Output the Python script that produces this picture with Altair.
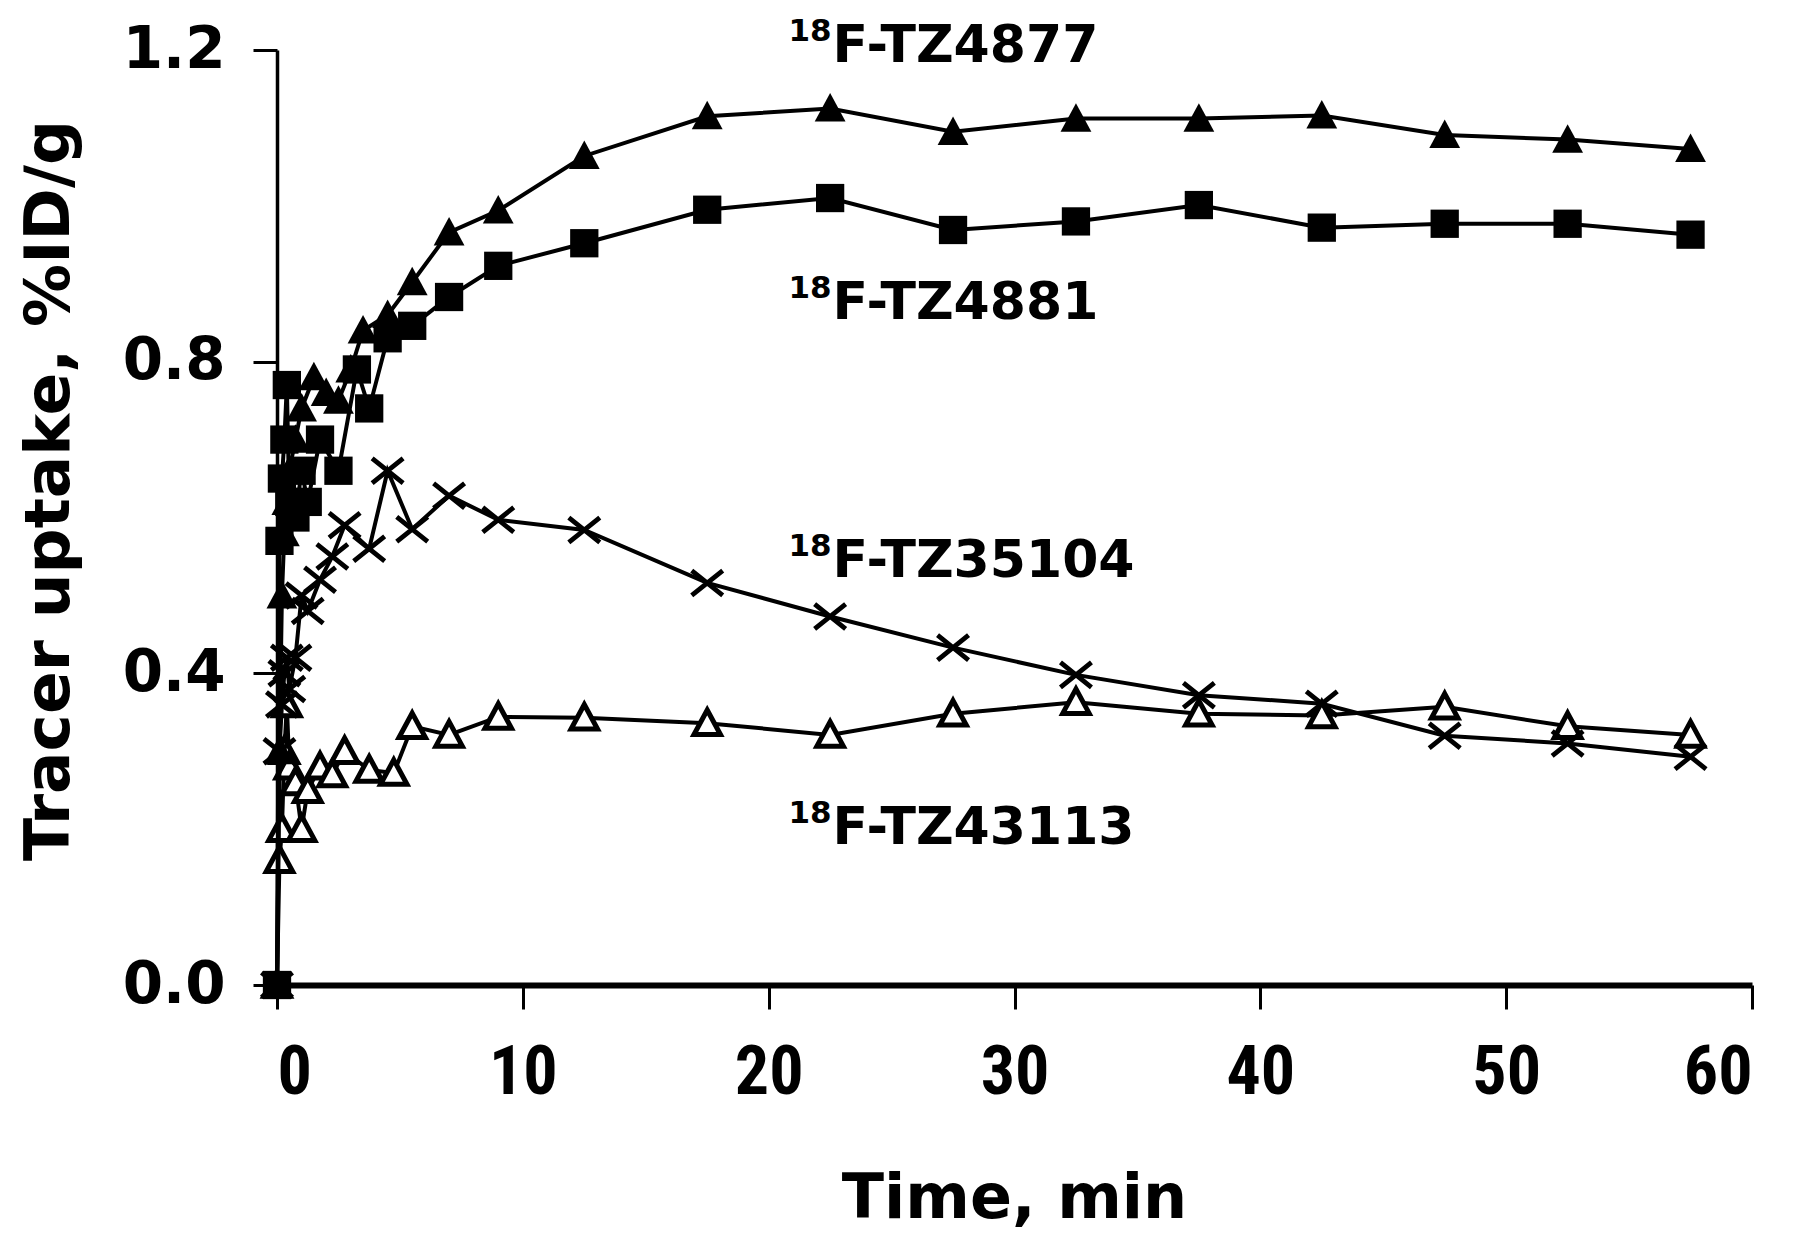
import altair as alt
import pandas as pd

# ---- data ----
t_4877 = [0, 0.1, 0.2, 0.3, 0.4, 0.5, 0.75, 1.0, 1.5, 2.0, 2.5, 3.0, 3.5, 4.5, 5.5, 7, 9, 12.5,
          17.5, 22.5, 27.5, 32.5, 37.5, 42.5, 47.5, 52.5, 57.5]
v_4877 = [0, 0.30, 0.50, 0.58, 0.62, 0.66, 0.70, 0.74, 0.78, 0.76, 0.75, 0.79, 0.84, 0.86, 0.902, 0.966, 0.994, 1.064,
          1.115, 1.125, 1.095, 1.112, 1.112, 1.116, 1.091, 1.085, 1.073]

t_4881 = [0, 0.1, 0.2, 0.3, 0.4, 0.5, 0.75, 1.0, 1.25, 1.75, 2.5, 3.25, 3.75, 4.5, 5.5, 7, 9, 12.5,
          17.5, 22.5, 27.5, 32.5, 37.5, 42.5, 47.5, 52.5, 57.5]
v_4881 = [0, 0.57, 0.65, 0.70, 0.77, 0.62, 0.60, 0.66, 0.62, 0.70, 0.66, 0.79, 0.74, 0.83, 0.846, 0.883, 0.923, 0.952,
          0.995, 1.010, 0.969, 0.980, 1.001, 0.972, 0.977, 0.977, 0.963]

t_35104 = [0, 0.1, 0.2, 0.3, 0.4, 0.5, 0.75, 1.0, 1.25, 1.75, 2.25, 2.75, 3.75, 4.5, 5.5, 7, 9, 12.5,
           17.5, 22.5, 27.5, 32.5, 37.5, 42.5, 47.5, 52.5, 57.5]
v_35104 = [0, 0.30, 0.36, 0.40, 0.42, 0.38, 0.42, 0.50, 0.48, 0.52, 0.55, 0.59, 0.56, 0.66, 0.585, 0.628, 0.597, 0.584,
           0.516, 0.473, 0.433, 0.398, 0.372, 0.361, 0.320, 0.310, 0.293]

t_43113 = [0, 0.1, 0.2, 0.3, 0.4, 0.5, 0.75, 1.0, 1.25, 1.75, 2.25, 2.75, 3.75, 4.75, 5.5, 7, 9, 12.5,
           17.5, 22.5, 27.5, 32.5, 37.5, 42.5, 47.5, 52.5, 57.5]
v_43113 = [0, 0.16, 0.20, 0.30, 0.36, 0.28, 0.26, 0.20, 0.25, 0.28, 0.27, 0.30, 0.276, 0.272, 0.332, 0.321, 0.344, 0.343,
           0.336, 0.321, 0.348, 0.363, 0.348, 0.346, 0.357, 0.332, 0.321]

label_main = ["F-TZ4877", "F-TZ4881", "F-TZ35104", "F-TZ43113"]
label_sup = ["18", "18", "18", "18"]
label_x = [22.6, 22.6, 22.6, 22.6]
label_y = [1.184, 0.855, 0.523, 0.181]

x_ticks = [0, 10, 20, 30, 40, 50, 60]
y_ticks = [0.0, 0.4, 0.8, 1.2]

BOLD = "DejaVu Sans"
NARROW = "'Liberation Sans Narrow', 'Roboto Condensed', Roboto"

W, H = 1475, 935

x_enc = alt.X("t:Q",
              scale=alt.Scale(domain=[0, 60], nice=False, zero=False),
              axis=alt.Axis(values=x_ticks, title="Time, min", grid=False,
                            domainWidth=6, domainColor="black", tickColor="black",
                            tickSize=24, tickWidth=3, labelPadding=30,
                            labelFont=NARROW, labelFontSize=68, labelFontWeight="bold", labelColor="black",
                            titleFont=BOLD, titleFontSize=62, titleFontWeight="bold", titleColor="black",
                            titleBaseline="alphabetic", titleY=232, titleX=737, titleAlign="center"))
y_enc = alt.Y("v:Q",
              scale=alt.Scale(domain=[0, 1.2], nice=False),
              axis=alt.Axis(values=y_ticks, format=".1f", title="Tracer uptake, %ID/g", grid=False,
                            domainWidth=3.5, domainColor="black", tickColor="black",
                            tickSize=24, tickWidth=3, labelPadding=28,
                            labelFont=BOLD, labelFontSize=58, labelFontWeight="bold", labelColor="black",
                            titleFont=BOLD, titleFontSize=63, titleFontWeight="bold", titleColor="black",
                            titleBaseline="alphabetic", titleX=-209, titleY=440, titleAlign="center",
                            titleAngle=270))

TRI = "M0,-1L1,0.85L-1,0.85Z"
XSHAPE = "M-1,-0.8L1,0.8M-1,0.8L1,-0.8"


def frame(name, t, v):
    return pd.DataFrame({"t": t, "v": v, "s": name})


def line(df):
    return alt.Chart(df).mark_line(color="black", strokeWidth=4).encode(x=x_enc, y=y_enc, order="t:Q")


df77 = frame("TZ4877", t_4877, v_4877)
df81 = frame("TZ4881", t_4881, v_4881)
df35 = frame("TZ35104", t_35104, v_35104)
df43 = frame("TZ43113", t_43113, v_43113)

pts77 = alt.Chart(df77).mark_point(shape=TRI, filled=True, color="black", size=950, opacity=1).encode(x=x_enc, y=y_enc)
pts81 = alt.Chart(df81).mark_point(shape="square", filled=True, color="black", size=800, opacity=1).encode(x=x_enc, y=y_enc)
pts35 = alt.Chart(df35).mark_point(shape=XSHAPE, filled=False, stroke="black", strokeWidth=4.8, size=960,
                                   opacity=1).encode(x=x_enc, y=y_enc)
pts43 = alt.Chart(df43).mark_point(shape=TRI, filled=True, fill="white", stroke="black", strokeWidth=5,
                                   size=700, opacity=1).encode(x=x_enc, y=y_enc)

lab_df = pd.DataFrame({"x": label_x, "y": label_y, "main": label_main, "sup": label_sup})
lab_main = alt.Chart(lab_df).mark_text(font=BOLD, fontSize=52, fontWeight="bold", color="black",
                                       align="left", baseline="alphabetic").encode(
    x=alt.X("x:Q", scale=alt.Scale(domain=[0, 60], nice=False, zero=False)),
    y=alt.Y("y:Q", scale=alt.Scale(domain=[0, 1.2], nice=False)),
    text="main:N")
lab_sup = alt.Chart(lab_df).mark_text(font=BOLD, fontSize=31, fontWeight="bold", color="black",
                                      align="right", baseline="alphabetic", dx=-1, dy=-21).encode(
    x=alt.X("x:Q", scale=alt.Scale(domain=[0, 60], nice=False, zero=False)),
    y=alt.Y("y:Q", scale=alt.Scale(domain=[0, 1.2], nice=False)),
    text="sup:N")

chart = alt.layer(
    line(df43), pts43,
    line(df35), pts35,
    line(df81), pts81,
    line(df77), pts77,
    lab_main, lab_sup,
).properties(
    width=W, height=H,
    background="white",
    autosize=alt.AutoSizeParams(type="none"),
    padding={"left": 269, "top": 42, "right": 40, "bottom": 248},
).configure_view(stroke=None)

chart.save("out.html", embed_options={"renderer": "svg", "actions": False})
